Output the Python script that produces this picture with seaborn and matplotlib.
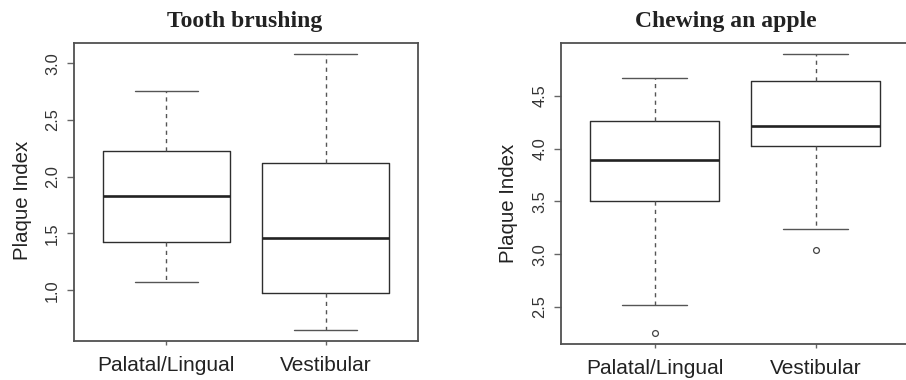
import numpy as np
import pandas as pd
import seaborn as sns
import matplotlib
matplotlib.use("Agg")
import matplotlib.pyplot as plt

# ---- data (five-number summaries) ----
categories = ["Palatal/Lingual", "Vestibular"]

# Tooth brushing: [lower whisker, Q1, median, Q3, upper whisker]
brush_palatal = [1.073, 1.423, 1.831, 2.227, 2.756]
brush_vestibular = [0.650, 0.974, 1.461, 2.122, 3.085]
brush_outliers_cat = []
brush_outliers_val = []

# Chewing an apple
apple_palatal = [2.522, 3.502, 3.893, 4.266, 4.674]
apple_vestibular = [3.236, 4.026, 4.218, 4.645, 4.893]
apple_outliers_cat = ["Palatal/Lingual", "Vestibular"]
apple_outliers_val = [2.257, 3.037]

titles = ["Tooth brushing", "Chewing an apple"]
ylabel = "Plaque Index"
brush_yticks = [1.0, 1.5, 2.0, 2.5, 3.0]
apple_yticks = [2.5, 3.0, 3.5, 4.0, 4.5]

sns.set_theme(style="white")
plt.rcParams["font.family"] = ["Liberation Sans", "DejaVu Sans"]

fig = plt.figure(figsize=(9.06, 3.8), dpi=100)
W, H = 906, 380

def px_axes(x0, y0, x1, y1):
    return fig.add_axes([x0 / W, 1 - y1 / H, (x1 - x0) / W, (y1 - y0) / H])

ax1 = px_axes(74, 43, 418, 341)
ax2 = px_axes(561.3, 42.7, 909, 344)

LINE = "#2e2e2e"
SPINE = "#505050"

def panel(ax, pal, ves, out_cat, out_val, yticks, ylim):
    df = pd.DataFrame({
        "group": [categories[0]] * len(pal) + [categories[1]] * len(ves),
        "value": pal + ves,
    })
    sns.boxplot(data=df, x="group", y="value", order=categories, ax=ax,
                whis=(0, 100), width=0.8, fill=False, color=LINE,
                linecolor=LINE, linewidth=1.0, showfliers=False,
                boxprops=dict(color=LINE, linewidth=1.0),
                medianprops=dict(color="#222222", linewidth=1.9),
                whiskerprops=dict(color="#555555", linewidth=1.0,
                                  linestyle=(0, (3, 3))),
                capprops=dict(color="#555555", linewidth=1.0))
    if out_val:
        odf = pd.DataFrame({"group": out_cat, "value": out_val})
        sns.stripplot(data=odf, x="group", y="value", order=categories,
                      ax=ax, jitter=False, color="white", edgecolor="#444444",
                      linewidth=0.9, size=4.2, zorder=5)
    ax.set_xlim(-0.58, 1.58)
    ax.set_ylim(*ylim)
    ax.set_yticks(yticks)
    ax.set_yticklabels([f"{t:.1f}" for t in yticks], rotation=90,
                       va="center")
    ax.set_xticks([0, 1])
    ax.set_xticklabels(categories)
    ax.tick_params(axis="y", length=5, width=1.0, color="#666666", pad=5,
                   left=True, labelsize=11.8, labelcolor="#333333")
    ax.tick_params(axis="x", length=3, width=1.0, color="#666666", pad=7.8,
                   bottom=True, labelsize=15, labelcolor="#222222")
    ax.set_xlabel("")
    ax.set_ylabel("")
    for s in ax.spines.values():
        s.set_color(SPINE)
        s.set_linewidth(1.3)
        s.set_visible(True)

panel(ax1, brush_palatal, brush_vestibular, brush_outliers_cat,
      brush_outliers_val, brush_yticks, (0.553, 3.178))
panel(ax2, apple_palatal, apple_vestibular, apple_outliers_cat,
      apple_outliers_val, apple_yticks, (2.149, 5.004))

# Titles
fig.text(244.3 / W, 1 - 21.5 / H, titles[0], ha="center", va="center",
         fontsize=17, fontweight="bold", color="#222222",
         family=["Liberation Serif", "DejaVu Serif"])
fig.text(725.8 / W, 1 - 21.5 / H, titles[1], ha="center", va="center",
         fontsize=17, fontweight="bold", color="#222222",
         family=["Liberation Serif", "DejaVu Serif"])

# Y labels
fig.text(23 / W, 1 - 200 / H, ylabel, rotation=90, ha="center", va="center",
         fontsize=14.7, color="#222222")
fig.text(508 / W, 1 - 203 / H, ylabel, rotation=90, ha="center", va="center",
         fontsize=14.7, color="#222222")

fig.savefig("out.png", dpi=100, facecolor="white")
